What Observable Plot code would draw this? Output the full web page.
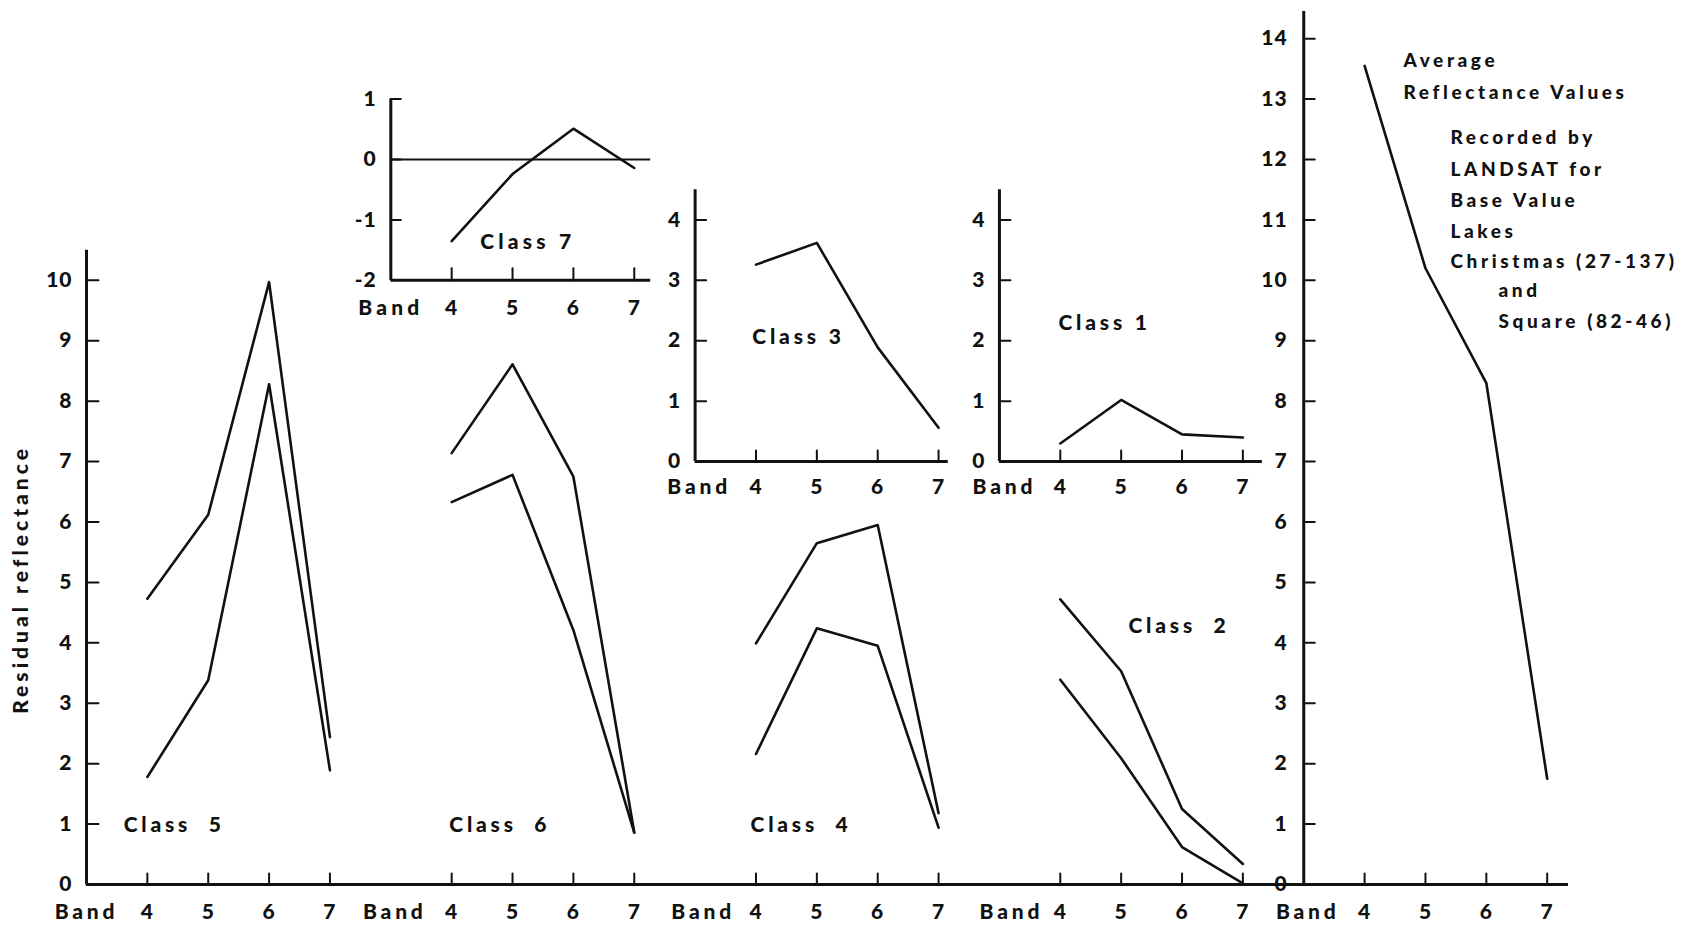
<!DOCTYPE html>
<html>
<head>
<meta charset="utf-8">
<script src="https://cdn.jsdelivr.net/npm/d3@7"></script>
<script src="https://cdn.jsdelivr.net/npm/@observablehq/plot@0.6"></script>
<style>
  html, body { margin: 0; padding: 0; background: #fff; }
  #chart { position: relative; width: 1684px; height: 925px; overflow: hidden; }
  #chart svg { position: absolute; left: 0; top: 0; max-width: none; overflow: visible; }
</style>
</head>
<body>
<div id="chart"></div>
<script>
// ---------------- data ----------------
const bands = [4, 5, 6, 7];

const class5Upper = [4.73, 6.12, 9.97, 2.44];
const class5Lower = [1.78, 3.38, 8.28, 1.89];
const class6Upper = [7.14, 8.61, 6.75, 0.86];
const class6Lower = [6.33, 6.78, 4.21, 0.86];
const class4Upper = [3.99, 5.65, 5.95, 1.18];
const class4Lower = [2.16, 4.24, 3.95, 0.94];
const class2Upper = [4.72, 3.53, 1.25, 0.34];
const class2Lower = [3.39, 2.09, 0.62, 0.02];
const class7 = [-1.35, -0.24, 0.51, -0.14];
const class3 = [3.26, 3.62, 1.89, 0.56];
const class1 = [0.30, 1.02, 0.45, 0.40];
const averageReflectance = [13.55, 10.2, 8.3, 1.75];

const mainTicks = [0, 1, 2, 3, 4, 5, 6, 7, 8, 9, 10];
const averageTicks = [0, 1, 2, 3, 4, 5, 6, 7, 8, 9, 10, 11, 12, 13, 14];
const class7Ticks = [-2, -1, 0, 1];
const insetTicks = [0, 1, 2, 3, 4];

const yTitle = "Residual reflectance";
const noteBlock1 = ["Average", "Reflectance Values"];
const noteBlock2 = ["Recorded by", "LANDSAT for", "Base Value", "Lakes", "Christmas (27-137)"];
const noteBlock3 = ["and", "Square (82-46)"];

// ---------------- layout ----------------
const W = 1684, H = 925;
const FONT = "Lato, 'Open Sans', 'DejaVu Sans', sans-serif";
const WEIGHT = 900;
const pos = (group, band) => group * 5 + band;   // panels are 5 band-widths apart

const mainSeries = [
  {group: 0, values: class5Upper}, {group: 0, values: class5Lower},
  {group: 1, values: class6Upper}, {group: 1, values: class6Lower},
  {group: 2, values: class4Upper}, {group: 2, values: class4Lower},
  {group: 3, values: class2Upper}, {group: 3, values: class2Lower},
  {group: 4, values: averageReflectance}
];
const toRows = (series) => series.flatMap((s, i) =>
  bands.map((b, j) => ({id: i, p: pos(s.group, b), v: s.values[j]})));

const tickShape = {draw(ctx, l) { ctx.moveTo(0, 0); ctx.lineTo(0, -l); }};
const yTicks = (values, xAt, len = 11) => Plot.vector(values, {
  x: () => xAt, y: d => d, length: len, rotate: 90, anchor: "start",
  shape: tickShape, strokeWidth: 2
});
const xTicks = (groups, yAt, len = 11) => Plot.vector(
  groups.flatMap(g => bands.map(b => pos(g, b))), {
  x: d => d, y: () => yAt, length: len, rotate: 0, anchor: "start",
  shape: tickShape, strokeWidth: 2
});
const yLabels = (values, xAt, dx = -14) => Plot.text(values, {
  x: () => xAt, y: d => d, text: d => String(d), textAnchor: "end",
  dx, fontWeight: WEIGHT, fontSize: 21
});
const bandNumbers = (groups, yAt, dy) => Plot.text(
  groups.flatMap(g => bands.map(b => ({p: pos(g, b), t: String(b)}))), {
  x: "p", y: () => yAt, text: "t", dy, fontWeight: WEIGHT, fontSize: 21
});
const bandWord = (group, yAt, dy, dx) => Plot.text(["Band"], {
  x: () => pos(group, 3), y: () => yAt, text: d => d, dy, dx,
  fontWeight: WEIGHT, fontSize: 21
});

function layer(yDomain, marks, spacing = "1px") {
  return Plot.plot({
    width: W, height: H,
    marginLeft: 86, marginRight: 116, marginTop: 11, marginBottom: 41,
    x: {domain: [3, 27.35], axis: null},
    y: {domain: yDomain, axis: null},
    style: {fontFamily: FONT, fontSize: "21px", letterSpacing: spacing,
            background: "transparent", color: "#111", overflow: "visible"},
    marks
  });
}

const root = document.getElementById("chart");

// ---- main panel (shared 0..14 scale) ----
root.append(layer([0, 14.45], [
  Plot.ruleY([0], {strokeWidth: 3}),
  Plot.ruleX([pos(0, 3)], {y1: 0, y2: 10.5, strokeWidth: 3}),
  Plot.ruleX([pos(4, 3)], {y1: 0, y2: 14.45, strokeWidth: 3}),
  yTicks(mainTicks, pos(0, 3), 12),
  yTicks(averageTicks, pos(4, 3), 11),
  xTicks([0, 1, 2, 3, 4], 0, 11),
  yLabels(mainTicks, pos(0, 3), -14),
  yLabels(averageTicks, pos(4, 3), -16),
  bandNumbers([0, 1, 2, 3, 4], 0, 28),
  Plot.line(toRows(mainSeries), {x: "p", y: "v", z: "id", strokeWidth: 2.6})
]));

// ---- words on main scale ----
const classLabels = [
  {t: "Class  5", p: 3.61, y: 0.98},
  {t: "Class  6", p: 8.96, y: 0.98},
  {t: "Class  4", p: 13.91, y: 0.98},
  {t: "Class  2", p: 20.12, y: 4.27}
];
const noteLines = [
  ...noteBlock1.map((t, i) => ({t, p: 24.64, y: [13.63, 13.11][i]})),
  ...noteBlock2.map((t, i) => ({t, p: 25.41, y: [12.36, 11.83, 11.32, 10.81, 10.31][i]})),
  ...noteBlock3.map((t, i) => ({t, p: 26.20, y: [9.83, 9.31][i]}))
];
root.append(layer([0, 14.45], [
  bandWord(0, 0, 28, 0), bandWord(1, 0, 28, 4), bandWord(2, 0, 28, 8),
  bandWord(3, 0, 28, 12), bandWord(4, 0, 28, 4),
  Plot.text(classLabels, {x: "p", y: "y", text: "t", textAnchor: "start", fontWeight: WEIGHT, fontSize: 21})
], "3.8px"));
root.append(layer([0, 14.45], [
  Plot.text([yTitle], {x: () => 1.93, y: () => 5.05, text: d => d, rotate: -90, fontWeight: WEIGHT, fontSize: 21})
], "4px"));
root.append(layer([0, 14.45], [
  Plot.text(noteLines, {x: "p", y: "y", text: "t", textAnchor: "start", fontWeight: WEIGHT, fontSize: 19})
], "3.6px"));

// ---- Class 7 inset (zero sits at main 12) ----
root.append(layer([-12, 2.45], [
  Plot.ruleX([pos(1, 3)], {y1: -2, y2: 1, strokeWidth: 3}),
  Plot.ruleY([-2], {x1: pos(1, 3), x2: 12.27, strokeWidth: 3}),
  Plot.ruleY([0], {x1: pos(1, 3), x2: 12.27, strokeWidth: 1.8}),
  yTicks([-1, 0, 1], pos(1, 3), 10),
  xTicks([1], -2, 12),
  yLabels(class7Ticks, pos(1, 3), -14),
  bandNumbers([1], -2, 28),
  Plot.line(bands.map((b, j) => ({p: pos(1, b), v: class7[j]})), {x: "p", y: "v", strokeWidth: 2.6})
]));
root.append(layer([-12, 2.45], [
  bandWord(1, -2, 28, 0),
  Plot.text(["Class 7"], {x: () => 9.47, y: () => -1.37, text: d => d, textAnchor: "start", fontWeight: WEIGHT, fontSize: 21})
], "4.2px"));

// ---- Class 3 and Class 1 insets (zero sits at main 7) ----
root.append(layer([-7, 7.45], [
  Plot.ruleX([pos(2, 3)], {y1: 0, y2: 4.5, strokeWidth: 3}),
  Plot.ruleY([0], {x1: pos(2, 3), x2: 17.16, strokeWidth: 3}),
  Plot.ruleX([pos(3, 3)], {y1: 0, y2: 4.5, strokeWidth: 3}),
  Plot.ruleY([0], {x1: pos(3, 3), x2: 22.32, strokeWidth: 3}),
  yTicks(insetTicks.slice(1), pos(2, 3), 11),
  yTicks(insetTicks.slice(1), pos(3, 3), 11),
  xTicks([2, 3], 0, 11),
  yLabels(insetTicks, pos(2, 3), -14),
  yLabels(insetTicks, pos(3, 3), -14),
  bandNumbers([2, 3], 0, 26),
  Plot.line(bands.map((b, j) => ({p: pos(2, b), v: class3[j]})), {x: "p", y: "v", strokeWidth: 2.6}),
  Plot.line(bands.map((b, j) => ({p: pos(3, b), v: class1[j]})), {x: "p", y: "v", strokeWidth: 2.6})
]));
root.append(layer([-7, 7.45], [
  bandWord(2, 0, 26, 4),
  bandWord(3, 0, 26, 5),
  Plot.text(["Class 3"], {x: () => 13.94, y: () => 2.06, text: d => d, textAnchor: "start", fontWeight: WEIGHT, fontSize: 21}),
  Plot.text(["Class 1"], {x: () => 18.97, y: () => 2.29, text: d => d, textAnchor: "start", fontWeight: WEIGHT, fontSize: 21})
], "3.8px"));
</script>
</body>
</html>
